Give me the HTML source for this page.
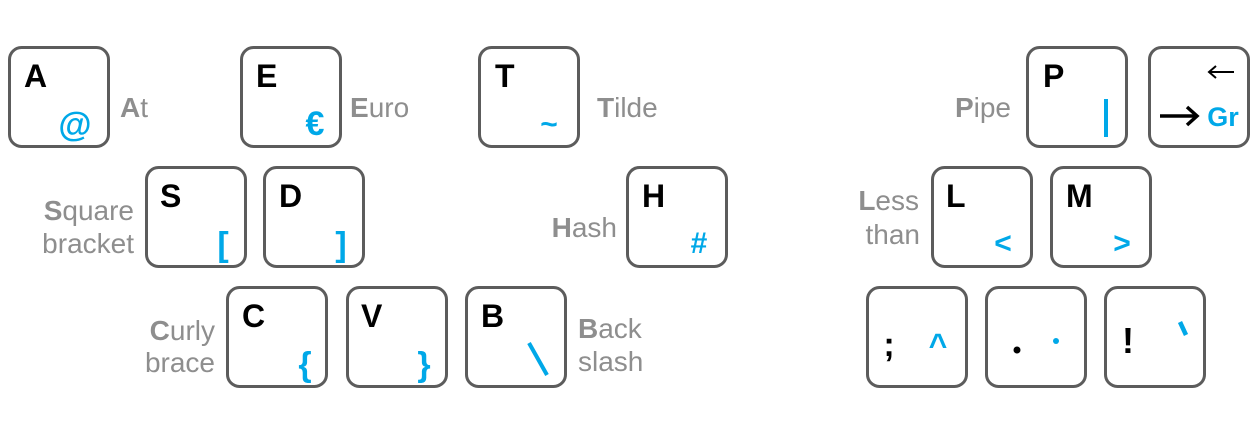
<!DOCTYPE html>
<html><head><meta charset="utf-8"><style>
html,body{margin:0;padding:0;background:#fff;}
svg{display:block;}
.k{fill:#fff;stroke:#5c5c5c;stroke-width:3;}
.l{font:bold 32px "Liberation Sans",sans-serif;fill:#000;}
.s{font:bold 34px "Liberation Sans",sans-serif;fill:#00a8e8;}
.t{font:28px "Liberation Sans",sans-serif;fill:#8e8e8e;}
.t tspan.b{font-weight:bold;}
</style></head><body>
<svg width="1258" height="428" viewBox="0 0 1258 428">
<g><rect class="k" x="9.5" y="47.5" width="99" height="99" rx="12"/><text class="l" x="24" y="87">A</text><text class="s" x="75" y="136" text-anchor="middle">@</text></g>
<text class="t" x="120" y="117"><tspan class="b">A</tspan>t</text>
<g><rect class="k" x="241.5" y="47.5" width="99" height="99" rx="12"/><text class="l" x="256" y="87">E</text><text class="s" x="315" y="135" text-anchor="middle">€</text></g>
<text class="t" x="350" y="117"><tspan class="b">E</tspan>uro</text>
<g><rect class="k" x="479.5" y="47.5" width="99" height="99" rx="12"/><text class="l" x="495" y="87">T</text><text class="s" x="549" y="134" text-anchor="middle" style="font-size:30px">~</text></g>
<text class="t" x="597" y="117"><tspan class="b">T</tspan>ilde</text>
<g><rect class="k" x="146.5" y="167.5" width="99" height="99" rx="12"/><text class="l" x="160" y="207">S</text><text class="s" x="223" y="256" text-anchor="middle" style="font-size:34px">[</text></g>
<text class="t" x="134" y="220" text-anchor="end"><tspan class="b">S</tspan>quare</text>
<text class="t" x="134" y="253" text-anchor="end">bracket</text>
<g><rect class="k" x="264.5" y="167.5" width="99" height="99" rx="12"/><text class="l" x="279" y="207">D</text><text class="s" x="341" y="256" text-anchor="middle" style="font-size:34px">]</text></g>
<g><rect class="k" x="627.5" y="167.5" width="99" height="99" rx="12"/><text class="l" x="642" y="207">H</text><text class="s" x="699" y="253" text-anchor="middle" style="font-size:30px">#</text></g>
<text class="t" x="617" y="237" text-anchor="end"><tspan class="b">H</tspan>ash</text>
<g><rect class="k" x="227.5" y="287.5" width="99" height="99" rx="12"/><text class="l" x="242" y="327">C</text><text class="s" x="305" y="376" text-anchor="middle" style="font-size:34px">{</text></g>
<text class="t" x="215" y="340" text-anchor="end"><tspan class="b">C</tspan>urly</text>
<text class="t" x="215" y="372" text-anchor="end">brace</text>
<g><rect class="k" x="347.5" y="287.5" width="99" height="99" rx="12"/><text class="l" x="361" y="327">V</text><text class="s" x="424" y="376" text-anchor="middle" style="font-size:34px">}</text></g>
<g><rect class="k" x="466.5" y="287.5" width="99" height="99" rx="12"/><text class="l" x="481" y="327">B</text><line x1="529" y1="343" x2="547" y2="375" stroke="#00a8e8" stroke-width="4"/></g>
<text class="t" x="578" y="338"><tspan class="b">B</tspan>ack</text>
<text class="t" x="578" y="371">slash</text>
<g><rect class="k" x="1027.5" y="47.5" width="99" height="99" rx="12"/><text class="l" x="1043" y="87">P</text><line x1="1106" y1="99" x2="1106" y2="137" stroke="#00a8e8" stroke-width="4"/></g>
<text class="t" x="1011" y="117" text-anchor="end"><tspan class="b">P</tspan>ipe</text>
<g><rect class="k" x="1149.5" y="47.5" width="99" height="99" rx="12"/>
<line x1="1210" y1="72" x2="1234" y2="72" stroke="#000" stroke-width="2"/><polyline points="1216,66 1209,72 1216,78" fill="none" stroke="#000" stroke-width="2"/>
<line x1="1160" y1="116" x2="1196" y2="116" stroke="#000" stroke-width="3.5"/><polyline points="1187,107 1197,116 1187,125" fill="none" stroke="#000" stroke-width="3.5"/>
<text class="s" x="1223" y="126" text-anchor="middle" style="font-size:27px">Gr</text></g>
<g><rect class="k" x="932.5" y="167.5" width="99" height="99" rx="12"/><text class="l" x="946" y="207">L</text><text class="s" x="1003" y="253" text-anchor="middle" style="font-size:30px">&lt;</text></g>
<text class="t" x="919" y="210" text-anchor="end"><tspan class="b">L</tspan>ess</text>
<text class="t" x="920" y="244" text-anchor="end">than</text>
<g><rect class="k" x="1051.5" y="167.5" width="99" height="99" rx="12"/><text class="l" x="1066" y="207">M</text><text class="s" x="1122" y="253" text-anchor="middle" style="font-size:30px">&gt;</text></g>
<g><rect class="k" x="867.5" y="287.5" width="99" height="99" rx="12"/><text class="l" x="889" y="356" text-anchor="middle" style="font-size:34px">;</text><text class="s" x="938" y="356" text-anchor="middle" style="font-size:32px">^</text></g>
<g><rect class="k" x="986.5" y="287.5" width="99" height="99" rx="12"/><circle cx="1017" cy="350" r="3.5" fill="#000"/><circle cx="1056" cy="341" r="3" fill="#00a8e8"/></g>
<g><rect class="k" x="1105.5" y="287.5" width="99" height="99" rx="12"/><text class="l" x="1128" y="353" text-anchor="middle" style="font-size:36px">!</text><line x1="1180" y1="322" x2="1186" y2="335" stroke="#00a8e8" stroke-width="4.5"/></g>
</svg>
</body></html>
